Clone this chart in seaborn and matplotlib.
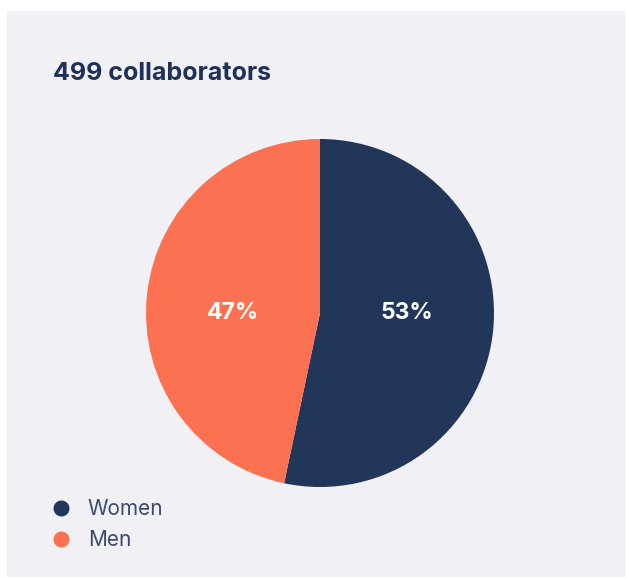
import matplotlib
matplotlib.use("Agg")
import matplotlib.pyplot as plt
import seaborn as sns
import numpy as np
from matplotlib.patches import Rectangle
from matplotlib.lines import Line2D

# data
labels = ["Women", "Men"]
counts = [266, 233]
colors = ["#22365a", "#fc7151"]
title = "499 collaborators"

sns.set_theme(style="white")
plt.rcParams["font.family"] = ["Inter", "DejaVu Sans"]

W, H = 627, 579
fig = plt.figure(figsize=(W / 100, H / 100), dpi=100)
fig.patch.set_facecolor("white")

# light panel behind everything
fig.patches.append(Rectangle((7 / W, 2 / H), 618 / W, 566 / H, transform=fig.transFigure,
                             facecolor="#f1f0f5", edgecolor="none", zorder=-10))

fig.text(53 / W, 1 - 73 / H, title, fontsize=18, fontweight="bold",
         color="#1f3158", va="center", ha="left")

cx, cy, r = 320, 313, 174
ax = fig.add_axes([(cx - r) / W, (H - cy - r) / H, 2 * r / W, 2 * r / H])
wedges, _ = ax.pie(counts, colors=colors, startangle=90, counterclock=False,
                   wedgeprops=dict(linewidth=0))

# percentage labels, all on the horizontal centre line
shares = np.array(counts) / sum(counts) * 100
for w, s in zip(wedges, shares):
    mid = np.deg2rad((w.theta1 + w.theta2) / 2)
    ax.text(0.5 * np.cos(mid), 0, f"{s:.0f}%", ha="center", va="center",
            color="white", fontsize=16.5, fontweight="bold")

ax.set_xlim(-1, 1)
ax.set_ylim(-1, 1)
ax.set_aspect("equal")
ax.axis("off")

handles = [Line2D([], [], marker="o", linestyle="none", markersize=10.5,
                  markerfacecolor=c, markeredgecolor=c) for c in colors]
leg = fig.legend(handles, labels, loc="upper left", bbox_to_anchor=(46 / W, 1 - 499 / H),
                 frameon=False, fontsize=15, handletextpad=0.6, handlelength=1.4,
                 labelspacing=0.55, borderaxespad=0, borderpad=0)
for t in leg.get_texts():
    t.set_color("#3b4a6b")

fig.savefig("out.png", dpi=100, facecolor=fig.get_facecolor())
